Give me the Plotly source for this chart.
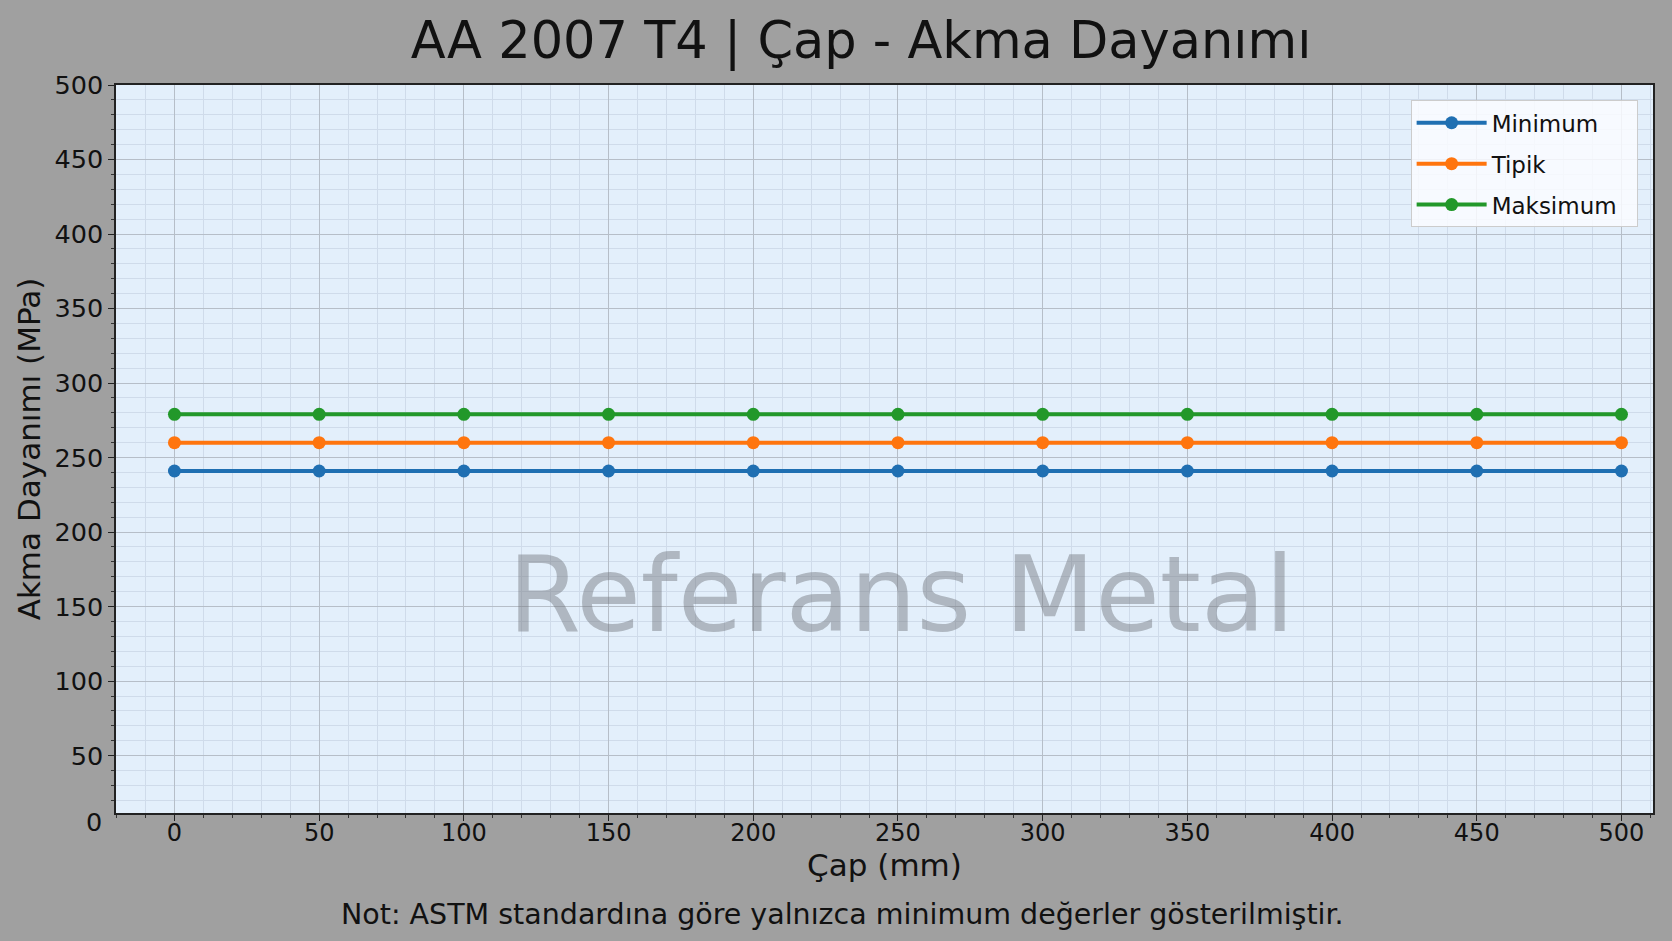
import plotly.graph_objects as go

# Çap (mm) ve akma dayanımı değerleri (MPa)
cap_mm = [0, 50, 100, 150, 200, 250, 300, 350, 400, 450, 500]
minimum = [241, 241, 241, 241, 241, 241, 241, 241, 241, 241, 241]
tipik = [260, 260, 260, 260, 260, 260, 260, 260, 260, 260, 260]
maksimum = [279, 279, 279, 279, 279, 279, 279, 279, 279, 279, 279]

SERIES = [
    ("Minimum", minimum, "#1f6fb2"),
    ("Tipik", tipik, "#ff750e"),
    ("Maksimum", maksimum, "#22982a"),
]

FONT = "DejaVu Sans"

fig = go.Figure()

for name, vals, color in SERIES:
    fig.add_trace(go.Scatter(
        x=cap_mm, y=vals, mode="lines+markers",
        name=name + "&nbsp;&nbsp;",  # sağ iç boşluk için
        legendgroup=name,  # ayrı grup -> tracegroupgap satır aralığı verir
        line=dict(color=color, width=4),
        marker=dict(color=color, size=13),
    ))

# ── Filigran ──────────────────────────────────────────────
fig.add_annotation(
    text="Referans Metal", xref="paper", yref="paper", x=0.511, y=0.30,
    xanchor="center", yanchor="middle", showarrow=False,
    font=dict(family=FONT, size=105, color="rgba(110,115,122,0.45)"),
)

# y ekseninde sıfır etiketi eksen çizgisinin hemen altında
fig.add_annotation(
    text="0", xref="paper", yref="paper", x=-0.0081, y=-0.0117,
    xanchor="right", yanchor="middle", showarrow=False,
    font=dict(family=FONT, size=25.5, color="#111111"),
)

# ── Alt not ───────────────────────────────────────────────
fig.add_annotation(
    text="Not: ASTM standardına göre yalnızca minimum değerler gösterilmiştir.",
    xref="paper", yref="paper", x=0.4726, y=-0.139, xanchor="center", yanchor="middle",
    showarrow=False, font=dict(family=FONT, size=28.5, color="#111111"),
)

axis_common = dict(
    showline=True, linecolor="#222222", linewidth=1.5, mirror=True,
    ticks="outside", ticklen=6, tickwidth=1.2, tickcolor="#222222",
    gridcolor="#b6bec8", gridwidth=1,
    zeroline=False,
    minor=dict(dtick=10, ticks="outside", ticklen=3, tickcolor="#333333",
               showgrid=True, gridcolor="#cfdbea", gridwidth=1),
)

fig.update_xaxes(
    range=[-20.2, 510.9], dtick=50, tick0=0,
    tickfont=dict(family=FONT, size=24, color="#111111"),
    ticklabelstandoff=-9,
    title=dict(text="Çap (mm)", font=dict(family=FONT, size=31, color="#111111"), standoff=1),
    **axis_common,
)
fig.update_yaxes(
    range=[11.5, 500], dtick=50, tick0=0,
    tickfont=dict(family=FONT, size=25.5, color="#111111"),
    title=dict(text="Akma Dayanımı (MPa)", font=dict(family=FONT, size=31, color="#111111"), standoff=5),
    **axis_common,
)

fig.update_layout(
    width=1672, height=941,
    paper_bgcolor="#a0a0a0",
    plot_bgcolor="#e3effb",
    font=dict(family=FONT, color="#111111"),
    title=dict(text="AA 2007 T4 | Çap - Akma Dayanımı", x=0.515, xanchor="center",
               y=0.957, yanchor="middle",
               font=dict(family=FONT, size=51, color="#111111")),
    margin=dict(l=116, r=19, t=85, b=128),
    legend=dict(
        x=0.990, y=0.979, xanchor="right", yanchor="top",
        bgcolor="rgba(250,252,255,0.85)", bordercolor="#cccccc", borderwidth=1,
        font=dict(family=FONT, size=23, color="#111111"),
        tracegroupgap=8, itemwidth=70,
    ),
    showlegend=True,
)

fig.write_html("out.html", config={"displayModeBar": False},
               post_script="document.body.style.margin='0';")
